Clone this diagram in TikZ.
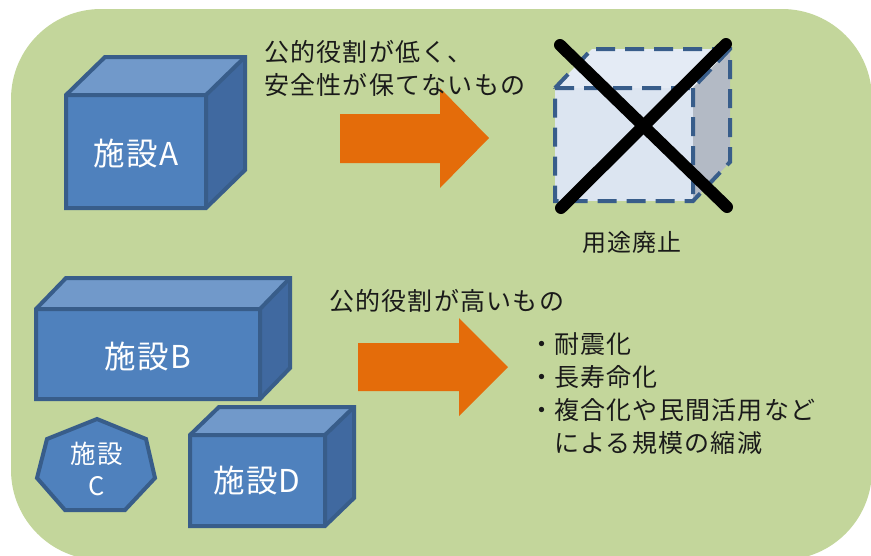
\documentclass[tikz,border=0pt]{standalone}
\usepackage{fontspec}
\setmainfont{Noto Sans CJK JP}
\newfontfamily\jp[LetterSpace=4]{Noto Sans CJK JP}
\newfontfamily\jpw[LetterSpace=5]{Noto Sans CJK JP}
\definecolor{bg}{HTML}{C3D69B}
\definecolor{bfront}{HTML}{4F81BD}
\definecolor{btop}{HTML}{7199CA}
\definecolor{bside}{HTML}{4069A0}
\definecolor{bline}{HTML}{385D8A}
\definecolor{orng}{HTML}{E46C0A}
\definecolor{gfront}{HTML}{DCE5F1}
\definecolor{gtop}{HTML}{E4EBF5}
\definecolor{gside}{HTML}{B3BAC5}
\definecolor{txt}{HTML}{1A1A1A}
\tikzset{
  bedge/.style={draw=bline, line width=4pt, line join=miter},
  gedge/.style={draw=bline, line width=4pt, dash pattern=on 19pt off 10pt},
  blockarrow/.style={fill=orng},
  boxlabel/.style={inner sep=0pt, text=white, font=\jp\fontsize{31.5}{36}\selectfont},
  smalltext/.style={inner sep=0pt, text=txt, font=\jpw\fontsize{25}{33}\selectfont, align=left},
  crossline/.style={draw=black, line width=12pt, line cap=round}
}
\newcommand\mycube[7]{%
  \fill[#7front] (#1,#2) rectangle (#3,#4);
  \fill[#7top] (#1,#2) -- ({#1+#5},{#2-#6}) -- ({#3+#5},{#2-#6}) -- (#3,#2) -- cycle;
  \fill[#7side] (#3,#2) -- ({#3+#5},{#2-#6}) -- ({#3+#5},{#4-#6}) -- (#3,#4) -- cycle;
  \draw[#7edge] (#1,#2) -- ({#1+#5},{#2-#6}) -- ({#3+#5},{#2-#6}) -- ({#3+#5},{#4-#6}) -- (#3,#4) -- (#1,#4) -- cycle;
  \draw[#7edge] (#1,#2) -- (#3,#2) -- ({#3+#5},{#2-#6}) (#3,#2) -- (#3,#4);
}
\begin{document}
\begin{tikzpicture}[x=1pt,y=-1pt]
\useasboundingbox (0,0) rectangle (871,555);
\clip (0,0) rectangle (871,555);
% background
\fill[bg, rounded corners=90pt] (11,9) rectangle (872,560);

% facility A
\mycube{66}{95}{206}{208}{39}{38}{b}
\node[boxlabel] (la) at (136,154) {施設A};

% facility B
\mycube{36}{309}{260}{399}{30}{31}{b}
\node[boxlabel] (lb) at (148,357) {施設B};

% facility D
\mycube{190}{435}{325}{526}{29}{28}{b}
\node[boxlabel] (ld) at (257,481) {施設D};

% facility C (heptagon)
\draw[bedge, fill=bfront] (97,419) -- (146,439) -- (155,478) -- (125,510) -- (65,510) -- (37,478) -- (47,439) -- cycle;
\node[boxlabel, font=\jp\fontsize{25.5}{32}\selectfont, align=center] (lc) at (97,469) {施設\\C};

% abolished facility
\mycube{555}{88}{693}{201}{37}{39}{g}
\draw[crossline] (560,45) -- (727,207);
\draw[crossline] (726,44) -- (561,208);
\node[smalltext, font=\jp\fontsize{24}{30}\selectfont] (lx) at (632,242) {用途廃止};

% arrows
\fill[blockarrow] (340,114) -- (440,114) -- (440,88) -- (489,138) -- (440,188) -- (440,163) -- (340,163) -- cycle;
\fill[blockarrow] (358,343) -- (459,343) -- (459,318) -- (508,367) -- (459,416) -- (459,391) -- (358,391) -- cycle;

% texts
\node[smalltext, anchor=west] (t1) at (264,68.5) {公的役割が低く、\\安全性が保てないもの};
\node[smalltext, anchor=west] (t2) at (329,301) {公的役割が高いもの};
\node[smalltext, anchor=north west] (t3) at (529,330) {%
\begin{tabular}{@{}l@{}l@{}}
・&耐震化\\
・&長寿命化\\
・&複合化や民間活用など\\
 &による規模の縮減
\end{tabular}};
\end{tikzpicture}
\end{document}
